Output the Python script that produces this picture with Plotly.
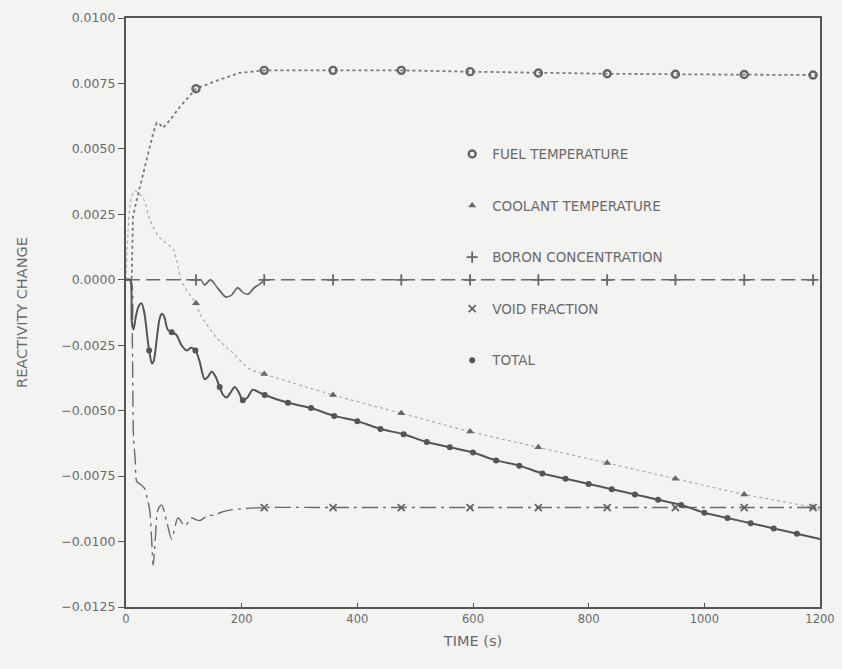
import plotly.graph_objects as go

# ---------------- data ----------------
FUEL_T = [0, 8, 10, 12, 18, 27, 38, 47, 53, 58, 64, 76, 93, 105, 121, 156, 196, 239, 300,
          358, 476, 595, 713, 832, 950, 1069, 1188, 1200]
FUEL_V = [0, 0, 0.0001, 0.0024, 0.0030, 0.0038, 0.0047, 0.0056, 0.0060, 0.00595, 0.0058, 0.0061,
          0.0066, 0.0069, 0.0073, 0.0076, 0.0079, 0.0080, 0.0080, 0.0080, 0.0080, 0.00795, 0.0079,
          0.00787, 0.00785, 0.00784, 0.00782, 0.00782]

COOL_T = [0, 8, 15, 30, 41, 55, 64, 75, 81, 90, 95, 105, 121, 128, 156, 185, 213, 239, 358, 476,
          595, 713, 832, 950, 1069, 1188, 1200]
COOL_V = [0, 0.0030, 0.0034, 0.0031, 0.0023, 0.0017, 0.0015, 0.0013, 0.0012, 0.0005, 0.0000,
          -0.0004, -0.0009, -0.0013, -0.0022, -0.0028, -0.0034, -0.0036, -0.0044, -0.0051,
          -0.0058, -0.0064, -0.0070, -0.0076, -0.0082, -0.0087, -0.0088]

BORON_T = [0, 121, 130, 136, 146, 158, 172, 182, 193, 203, 211, 222, 235, 239, 245, 358, 476,
           595, 713, 832, 950, 1069, 1188, 1200]
BORON_V = [0, 0, 0, -0.0002, 0.0, -0.0003, -0.00065, -0.0006, -0.0003, -0.0005, -0.00055,
           -0.0003, -0.0001, 0, 0, 0, 0, 0, 0, 0, 0, 0, 0, 0]

VOID_T = [0, 8, 11, 13, 16, 18.5, 24, 33, 36, 41, 44.5, 47, 51, 55, 61.5, 70, 79, 90, 102, 113,
          127, 142, 153, 162, 179, 200, 239, 358, 476, 595, 713, 832, 950, 1069, 1188, 1200]
VOID_V = [0, 0, -0.0025, -0.0060, -0.0069, -0.0077, -0.0078, -0.0080, -0.0083, -0.0088, -0.0100,
          -0.0109, -0.0098, -0.0088, -0.0086, -0.0092, -0.0099, -0.0091, -0.0094, -0.0091,
          -0.0092, -0.0090, -0.0090, -0.0089, -0.0088, -0.00875, -0.0087, -0.0087, -0.0087,
          -0.0087, -0.0087, -0.0087, -0.0087, -0.0087, -0.0087, -0.0087]

TOTAL_T = [0, 7, 10, 13, 17, 22, 27, 32, 37, 40, 45, 48, 53, 58, 62, 66, 72, 79, 87, 96, 105,
           112, 120, 127, 136, 142, 148, 155, 162, 168, 174, 181, 188, 195, 202, 210, 219, 230,
           240, 280, 320, 360, 400, 440, 480, 520, 560, 600, 640, 680, 720, 760, 800, 840, 880,
           920, 960, 1000, 1040, 1080, 1120, 1160, 1200]
TOTAL_V = [0, 0, -0.0016, -0.0019, -0.0014, -0.0010, -0.0009, -0.0013, -0.0022, -0.0027, -0.0032,
           -0.0031, -0.0023, -0.0015, -0.0013, -0.0014, -0.0019, -0.0020, -0.0021, -0.0025,
           -0.0027, -0.0026, -0.0027, -0.0031, -0.0038, -0.0037, -0.0035, -0.0037, -0.0041,
           -0.0044, -0.0045, -0.0043, -0.0041, -0.0043, -0.0046, -0.0045, -0.0042, -0.0043,
           -0.0044, -0.0047, -0.0049, -0.0052, -0.0054, -0.0057, -0.0059, -0.0062, -0.0064,
           -0.0066, -0.0069, -0.0071, -0.0074, -0.0076, -0.0078, -0.0080, -0.0082, -0.0084,
           -0.0086, -0.0089, -0.0091, -0.0093, -0.0095, -0.0097, -0.0099]

MARK_T_SLOW = [121, 239, 358, 476, 595, 713, 832, 950, 1069, 1188]
MARK_T_VOID = [239, 358, 476, 595, 713, 832, 950, 1069, 1188]
MARK_T_TOTAL = [40, 79, 120, 162, 202] + list(range(240, 1161, 40))
BORON_WAVE = (130, 245)   # time span where the boron trace is drawn solid

X_TICKS = [0, 200, 400, 600, 800, 1000, 1200]
Y_TICKS = [0.0100, 0.0075, 0.0050, 0.0025, 0.0, -0.0025, -0.0050, -0.0075, -0.0100, -0.0125]

NAMES = ["FUEL TEMPERATURE", "COOLANT TEMPERATURE", "BORON CONCENTRATION", "VOID FRACTION", "TOTAL"]


def pick(ts, vs, marks):
    s = set(marks)
    xs = [t for t in ts if t in s]
    ys = [v for t, v in zip(ts, vs) if t in s]
    return xs, ys


fig = go.Figure()

series = [
    (FUEL_T, FUEL_V, MARK_T_SLOW, dict(color="#7a7a7a", width=1.8, dash="dot"), "linear",
     dict(symbol="circle-open", size=7, color="#666", line=dict(width=2.4, color="#666"))),
    (COOL_T, COOL_V, MARK_T_SLOW, dict(color="#aaaaaa", width=1.2, dash="dot"), "spline",
     dict(symbol="triangle-up", size=7, color="#666")),
    (BORON_T, BORON_V, MARK_T_SLOW, dict(color="#6a6a6a", width=1.5, dash="14px,6px"), "spline",
     dict(symbol="cross-thin-open", size=8, color="#666", line=dict(width=1.8, color="#666"))),
    (VOID_T, VOID_V, MARK_T_VOID, dict(color="#6a6a6a", width=1.4, dash="16px,5px,3px,5px"), "spline",
     dict(symbol="x-thin-open", size=7, color="#666", line=dict(width=1.8, color="#666"))),
    (TOTAL_T, TOTAL_V, MARK_T_TOTAL, dict(color="#555", width=2.0), "spline",
     dict(symbol="circle", size=6, color="#555")),
]

for i, (ts, vs, mk, line, shape, marker) in enumerate(series):
    fig.add_trace(go.Scatter(x=ts, y=vs, mode="lines", line=dict(shape=shape, smoothing=0.8, **line),
                             showlegend=False, hoverinfo="skip"))

# solid portion of the boron trace (oscillation), from the same data
wx = [t for t in BORON_T if BORON_WAVE[0] <= t <= BORON_WAVE[1]]
wy = [v for t, v in zip(BORON_T, BORON_V) if BORON_WAVE[0] <= t <= BORON_WAVE[1]]
fig.add_trace(go.Scatter(x=wx, y=wy, mode="lines",
                         line=dict(shape="spline", smoothing=0.8, color="#6a6a6a", width=1.5),
                         showlegend=False, hoverinfo="skip"))

for i, (ts, vs, mk, line, shape, marker) in enumerate(series):
    mx, my = pick(ts, vs, mk)
    fig.add_trace(go.Scatter(x=mx, y=my, mode="markers", marker=marker, name=NAMES[i],
                             legendgroup=NAMES[i], showlegend=True))

bg = "#f3f3f2"
FONT = "DejaVu Sans, Liberation Sans, sans-serif"
fig.update_layout(
    width=842, height=669,
    margin=dict(l=126, r=22, t=18, b=62, autoexpand=False),
    paper_bgcolor=bg, plot_bgcolor=bg,
    font=dict(family=FONT, size=11, color="#6a6a6a"),
    showlegend=True,
    legend=dict(x=0.47, y=0.795, xanchor="left", yanchor="top", bgcolor="rgba(0,0,0,0)",
                tracegroupgap=31, font=dict(family=FONT, size=13.5, color="#6a6a6a"),
                itemsizing="trace"),
    xaxis=dict(range=[0, 1200], tickvals=X_TICKS, ticktext=[str(v) for v in X_TICKS],
               tickfont=dict(size=11.5), automargin=False,
               showgrid=False, zeroline=False, showline=True, mirror=True, linewidth=2.2,
               linecolor="#555", ticks="inside", ticklen=4, tickcolor="#555",
               title=dict(text="TIME (s)", font=dict(size=14.5, color="#6a6a6a"), standoff=11)),
    yaxis=dict(range=[-0.0125, 0.0100], tickvals=Y_TICKS, tickformat=".4f",
               tickfont=dict(size=12.5), automargin=False,
               showgrid=False, zeroline=False, showline=True, mirror=True, linewidth=2.2,
               linecolor="#555", ticks="outside", ticklen=6, tickcolor="#555",
               title=dict(text="REACTIVITY CHANGE", font=dict(size=14.5, color="#6a6a6a"), standoff=30)),
)

fig.write_html("out.html")
